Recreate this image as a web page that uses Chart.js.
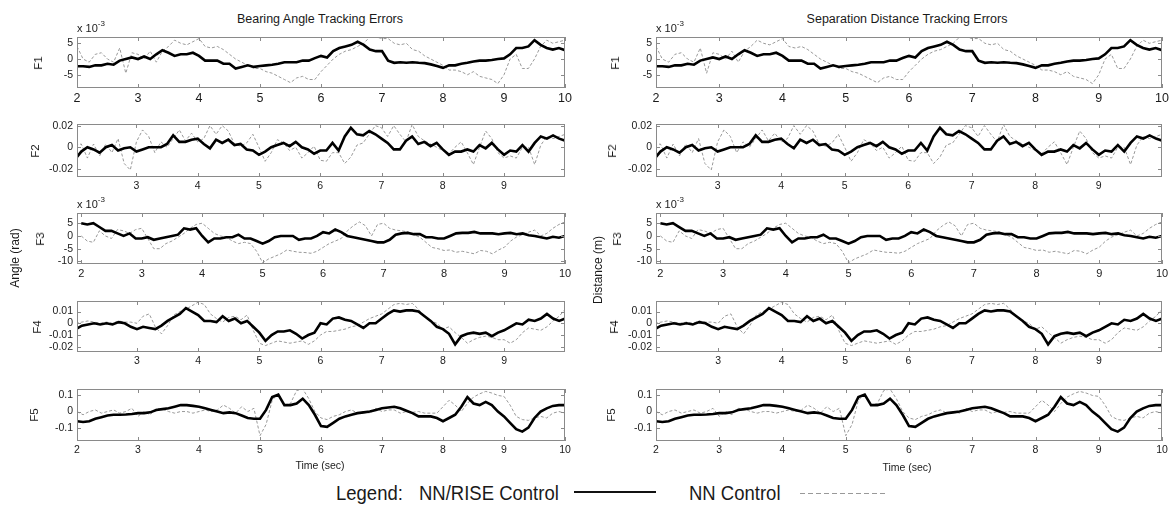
<!DOCTYPE html>
<html>
<head>
<meta charset="utf-8">
<script src="https://cdn.jsdelivr.net/npm/chart.js@4.4.0/dist/chart.umd.min.js"></script>
<style>
  body { margin: 0; width: 1173px; height: 512px; background: #fff; position: relative; overflow: hidden;
         font-family: "Liberation Sans", Arial, sans-serif; color: #1a1a1a; }
  canvas { position: absolute; }
  .t { position: absolute; white-space: nowrap; transform: translate(-50%, -50%); }
  .r { position: absolute; white-space: nowrap; transform: translate(-50%, -50%) rotate(-90deg); }
  .e { position: absolute; white-space: nowrap; font-size: 11px; }
  .e sup { font-size: 8px; position: relative; top: -1px; }
  .lg { position: absolute; white-space: nowrap; font-size: 18.5px; transform: scaleY(1.1); transform-origin: 0 0; }
</style>
</head>
<body>
<script>
// time samples (sec)
const times = [2.0, 2.1, 2.2, 2.3, 2.4, 2.5, 2.6, 2.7, 2.8, 2.9,
  3.0, 3.1, 3.2, 3.3, 3.4, 3.5, 3.6, 3.7, 3.8, 3.9,
  4.0, 4.1, 4.2, 4.3, 4.4, 4.5, 4.6, 4.7, 4.8, 4.9,
  5.0, 5.1, 5.2, 5.3, 5.4, 5.5, 5.6, 5.7, 5.8, 5.9,
  6.0, 6.1, 6.2, 6.3, 6.4, 6.5, 6.6, 6.7, 6.8, 6.9,
  7.0, 7.1, 7.2, 7.3, 7.4, 7.5, 7.6, 7.7, 7.8, 7.9,
  8.0, 8.1, 8.2, 8.3, 8.4, 8.5, 8.6, 8.7, 8.8, 8.9,
  9.0, 9.1, 9.2, 9.3, 9.4, 9.5, 9.6, 9.7, 9.8, 9.9, 10.0];

// F1 (x 10^-3)
const f1Rise = [-2.3, -2.3, -2.5, -2.0, -2.0, -1.5, -1.8, -0.5, 0, 0.5,
  0, 0.8, 0, 1.5, 2.8, 2.0, 1.0, 1.5, 1.5, 2.0,
  1.0, -0.5, -0.5, -0.5, -1.5, -1.5, -3, -2.5, -2, -2.5,
  -2.2, -2, -1.8, -1.5, -1, -1, -1, -0.5, -0.5, 0.3,
  1.0, 0.5, 2.5, 3.5, 4, 4.5, 5.5, 4.5, 3.0, 2.5,
  2.5, -0.5, -1.2, -1.0, -1.2, -1.0, -1.2, -1.3, -1.7, -2.2,
  -2.8, -2.0, -2.0, -1.5, -1.2, -0.8, -0.5, -0.5, -0.3, 0,
  0.2, 1.5, 3.5, 3.5, 4.0, 6, 4.5, 3.5, 3.0, 3.5, 2.8];
const f1NN = [4, 0, -1, 1.5, 2, 0, -1, 3.5, -4.5, 2,
  1.5, 0, 2.5, -1, 2.5, 4.0, 6, 5, 4.5, 5.5,
  6.5, 4, 3.5, 4, 3, 1.5, 0, -1, -2, -3,
  -3, -4, -4.5, -5.5, -6.5, -7.5, -6, -5.5, -6.5, -6.5,
  -4, -2, 0, 1.5, 2.5, 3, 4, 5, 7, 7,
  6.5, 6.5, 5, 4.5, 5, 3, 2.5, 1, 0, -1,
  -2, -3.5, -3.5, -4, -5, -4, -5.5, -6, -6.5, -7.8,
  -5, 0, 1.5, -3, -3, 0, 4, 6, 5, 5.5, 6];

// F2
const f2Rise = [-0.011, -0.004, 0, -0.002, -0.005, 0, 0.002, -0.003, -0.001, 0,
  -0.004, -0.002, 0, 0, 0, 0.003, 0.011, 0.005, 0.005, 0.007,
  0.008, 0.003, -0.001, 0.007, 0.004, 0.007, 0.002, 0.003, -0.002, -0.003,
  -0.007, -0.004, 0, 0.002, 0.004, 0.001, 0.005, 0, -0.002, -0.006,
  -0.003, -0.003, 0.004, -0.003, 0.01, 0.018, 0.012, 0.011, 0.015, 0.012,
  0.008, 0.004, -0.002, -0.002, 0.006, 0.01, 0.003, 0.005, 0.001, 0.004,
  -0.002, -0.007, -0.004, -0.004, -0.002, -0.004, 0.002, -0.001, 0.004, -0.002,
  -0.007, -0.003, -0.004, 0.002, -0.004, 0.004, 0.01, 0.008, 0.011, 0.008, 0.006];
const f2NN = [0.002, 0.003, -0.01, 0.003, -0.008, 0.003, -0.005, 0.008, -0.015, -0.021,
  0.005, 0.016, 0.01, -0.005, 0.005, 0, 0.008, 0.016, 0.006, 0.013,
  0.005, 0.008, 0.02, 0.012, 0.02, 0.015, 0.003, 0.001, 0.004, 0.012,
  0, -0.013, -0.005, 0.007, 0.004, -0.003, 0, -0.01, -0.005, 0.001,
  -0.012, -0.013, -0.005, -0.005, -0.015, -0.009, 0.002, 0.004, 0.012, 0.02,
  0.018, 0.01, 0.02, 0.012, 0.005, 0.021, 0.01, 0.006, 0.003, 0,
  -0.003, -0.006, 0, 0.005, -0.005, -0.016, 0, 0.015, 0.008, -0.005,
  -0.01, -0.008, -0.01, 0, 0, -0.016, 0.002, 0.01, 0.008, 0.01, 0.012];

// F3 (x 10^-3)
const f3Rise = [5, 4.5, 5, 3.5, 2, 2, 1, 0, 1, -1,
  -1, -0.5, -1.5, -1, -0.5, 0, 0.5, 3, 2.5, 3,
  0, -2.5, -1, -1, -0.5, -0.5, 0.5, -1, -1, -2,
  -3, -2, -0.5, 0, 0, 0, -1.5, -1, -1, 0,
  1.5, 1, 2.5, 1.5, 0, -0.5, -1, -1.5, -2, -2.5,
  -2.5, -1.5, 0.5, 1, 1.2, 0.7, 0.7, -0.5, -0.5, -1,
  -1, 0, 1, 1.2, 1.2, 1.6, 1, 1, 1, 0.7,
  1, 1.2, 0.7, 1, 0.3, 0, -0.5, -1, -0.3, -0.7, 0];
const f3NN = [0, -2, -2.5, 2, 0, -1, 2.5, 2, 1, 2.5,
  3, -1, -5, -5, -3, -2, -0.5, 1, 3, 4.5,
  5, 3, 1, 0, -0.5, -2, -3, -2.5, -3, -6,
  -10.5, -9, -8, -7, -5.5, -6, -6.4, -6.5, -6.8, -6,
  -4.5, -3, -2, -1, 2, 4, 5.5, 4, 0, 4.5,
  5, 3, 2.3, 2, 1.6, 0.5, -0.5, -2.5, -4.5, -5,
  -5.7, -5.5, -6.4, -6, -6.5, -7, -5.7, -6, -7, -5.5,
  -4.4, -2, -0.4, 0.5, 1.5, 2.3, 0, 1, 3, 4.5, 5.5];

// F4
const f4Rise = [-0.005, -0.002, -0.001, 0, -0.001, 0, -0.001, 0.001, 0, -0.003,
  -0.005, -0.003, -0.004, -0.005, -0.002, 0.002, 0.005, 0.008, 0.013, 0.01,
  0.007, 0.002, 0.002, 0.001, 0.006, 0.002, 0.004, 0, 0.002, -0.003,
  -0.008, -0.015, -0.01, -0.007, -0.007, -0.006, -0.009, -0.013, -0.01, -0.008,
  0, -0.001, 0.004, 0.005, 0.003, 0.002, -0.001, -0.004, 0, 0,
  0.004, 0.008, 0.011, 0.01, 0.011, 0.011, 0.01, 0.006, 0.002, -0.003,
  -0.005, -0.009, -0.018, -0.011, -0.009, -0.008, -0.009, -0.008, -0.011, -0.008,
  -0.006, -0.003, 0, -0.001, 0.003, 0.002, 0.004, 0.008, 0.004, 0.002, 0.004];
const f4NN = [0, 0.001, 0.002, 0.001, 0, 0.001, 0, 0.002, 0.001, 0.001,
  0, 0.006, 0.008, -0.003, -0.009, -0.002, 0.007, 0.01, 0.012, 0.015,
  0.018, 0.016, 0.008, 0.004, 0.001, 0.005, 0.006, 0.003, 0.007, -0.006,
  -0.017, -0.019, -0.017, -0.015, -0.016, -0.017, -0.016, -0.015, -0.018, -0.015,
  -0.01, -0.007, -0.007, -0.006, -0.005, -0.003, -0.002, 0.001, 0.004, 0.006,
  0.008, 0.012, 0.016, 0.017, 0.016, 0.017, 0.012, 0.006, 0.002, 0,
  -0.005, -0.003, -0.008, -0.012, -0.017, -0.014, -0.012, -0.011, -0.012, -0.014,
  -0.014, -0.017, -0.014, -0.008, -0.004, -0.005, -0.006, -0.003, 0.002, 0.006, 0.012];

// F5
const f5Rise = [-0.06, -0.065, -0.06, -0.045, -0.035, -0.025, -0.02, -0.02, -0.018, -0.015,
  -0.01, -0.01, -0.005, 0.01, 0.015, 0.02, 0.03, 0.04, 0.04, 0.035,
  0.03, 0.02, 0.01, 0, -0.01, -0.005, -0.01, -0.025, -0.04, -0.045,
  -0.045, 0.01, 0.09, 0.105, 0.04, 0.04, 0.05, 0.08, 0.04, -0.02,
  -0.09, -0.095, -0.07, -0.045, -0.03, -0.02, -0.01, -0.005, 0, 0.01,
  0.02, 0.025, 0.03, 0.02, 0.005, -0.01, -0.03, -0.03, -0.03, -0.04,
  -0.06, -0.04, -0.02, 0.03, 0.09, 0.05, 0.04, 0.06, 0.04, 0,
  -0.03, -0.07, -0.11, -0.125, -0.1, -0.04, 0, 0.02, 0.035, 0.04, 0.04];
const f5NN = [0, -0.02, 0, 0.01, -0.01, 0, 0.01, -0.01, 0, 0.02,
  -0.03, 0, -0.02, 0.02, 0.015, 0, -0.01, 0, 0, -0.01,
  0, 0.01, 0, 0.01, 0.04, 0.02, -0.01, 0.03, 0, 0.02,
  -0.15, -0.08, 0.07, 0.11, 0.04, 0.05, 0.13, 0.14, 0.08, 0,
  -0.04, -0.05, -0.03, -0.02, 0, 0.01, -0.01, 0, -0.01, 0.02,
  0, 0.01, 0.01, -0.01, 0, -0.005, 0, -0.01, -0.01, -0.01,
  0.03, 0.07, 0.04, 0, 0.05, 0.09, 0.11, 0.125, 0.115, 0.1,
  0.094, 0.04, -0.03, -0.05, -0.055, -0.04, -0.03, -0.04, -0.01, 0, -0.01];

// axis ticks
const xTicksFull = [2, 3, 4, 5, 6, 7, 8, 9, 10];
const xTicksInner = [3, 4, 5, 6, 7, 8, 9];
const f1YTicks = [-5, 0, 5];
const f2YTicks = [-0.02, 0, 0.02];
const f3YTicks = [-10, -5, 0, 5];
const f4YTicks = [-0.02, -0.01, 0, 0.01];
const f5YTicks = [-0.1, 0, 0.1];

const panels = [
  { name: 'F1', rise: f1Rise, nn: f1NN, xr: [2, 10], yr: [-9.2, 7], xt: xTicksFull, yt: f1YTicks, top: 37, bottom: 88, xFont: 12.5, lx: 38 },
  { name: 'F2', rise: f2Rise, nn: f2NN, xr: [2.03, 9.995], yr: [-0.0275, 0.0215], xt: xTicksInner, yt: f2YTicks, top: 124, bottom: 177, xFont: 10.5, lx: 35 },
  { name: 'F3', rise: f3Rise, nn: f3NN, xr: [1.93, 10], yr: [-11, 9], xt: xTicksFull, yt: f3YTicks, top: 213, bottom: 264, xFont: 11, lx: 40 },
  { name: 'F4', rise: f4Rise, nn: f4NN, xr: [2.02, 9.995], yr: [-0.0245, 0.019], xt: xTicksInner, yt: f4YTicks, top: 301, bottom: 352, xFont: 10.5, lx: 37 },
  { name: 'F5', rise: f5Rise, nn: f5NN, xr: [2, 10], yr: [-0.183, 0.14], xt: xTicksFull, yt: f5YTicks, top: 389, bottom: 441, xFont: 10.5, lx: 34 }
];
const columns = [ { left: 77, right: 565, shift: 0 }, { left: 656, right: 1162, shift: 577 } ];

// box + inward ticks like the original plots
const frame = {
  id: 'frame',
  afterDatasetsDraw(chart) {
    const { ctx, chartArea: a, scales: { x, y } } = chart;
    ctx.save();
    ctx.strokeStyle = '#8a8a8a';
    ctx.lineWidth = 1;
    ctx.strokeRect(Math.round(a.left) + 0.5, Math.round(a.top) + 0.5, Math.round(a.width) - 1, Math.round(a.height) - 1);
    ctx.beginPath();
    x.ticks.forEach(t => {
      const px = Math.round(x.getPixelForValue(t.value)) + 0.5;
      ctx.moveTo(px, a.bottom); ctx.lineTo(px, a.bottom - 4);
      ctx.moveTo(px, a.top); ctx.lineTo(px, a.top + 4);
    });
    y.ticks.forEach(t => {
      const py = Math.round(y.getPixelForValue(t.value)) + 0.5;
      ctx.moveTo(a.left, py); ctx.lineTo(a.left + 4, py);
      ctx.moveTo(a.right, py); ctx.lineTo(a.right - 4, py);
    });
    ctx.stroke();
    ctx.restore();
  }
};

function addDiv(cls, html, x, y, css) {
  const d = document.createElement('div');
  d.className = cls;
  d.innerHTML = html;
  d.style.left = x + 'px';
  d.style.top = y + 'px';
  if (css) d.style.cssText += css;
  document.body.appendChild(d);
}

function makePanel(p, col) {
  const cvn = document.createElement('canvas');
  const w = col.right - col.left + 68;
  const h = p.bottom - p.top + 28;
  cvn.width = w; cvn.height = h;
  cvn.style.left = (col.left - 60) + 'px';
  cvn.style.top = (p.top - 8) + 'px';
  cvn.style.width = w + 'px'; cvn.style.height = h + 'px';
  document.body.appendChild(cvn);

  new Chart(cvn.getContext('2d'), {
    type: 'line',
    data: {
      datasets: [
        { data: times.map((t, i) => ({ x: t, y: p.rise[i] })), borderColor: '#000', borderWidth: 2.6, pointRadius: 0, tension: 0 },
        { data: times.map((t, i) => ({ x: t, y: p.nn[i] })), borderColor: '#999', borderWidth: 1, borderDash: [3, 2], pointRadius: 0, tension: 0 }
      ]
    },
    options: {
      responsive: false,
      animation: false,
      devicePixelRatio: 1,
      layout: { padding: { top: 8, right: 8, left: 0, bottom: 0 } },
      plugins: { legend: { display: false }, tooltip: { enabled: false } },
      scales: {
        x: {
          type: 'linear', min: p.xr[0], max: p.xr[1],
          grid: { display: false, drawTicks: false }, border: { display: false },
          afterBuildTicks: s => { s.ticks = p.xt.map(v => ({ value: v })); },
          afterFit: s => { s.height = 20; s.paddingLeft = 0; s.paddingRight = 0; },
          ticks: { font: { family: 'Liberation Sans', size: p.xFont }, color: '#1a1a1a', padding: 3, maxRotation: 0, autoSkip: false, callback: v => String(v) }
        },
        y: {
          type: 'linear', min: p.yr[0], max: p.yr[1],
          grid: { display: false, drawTicks: false }, border: { display: false },
          afterBuildTicks: s => { s.ticks = p.yt.map(v => ({ value: v })); },
          afterFit: s => { s.width = 60; s.paddingTop = 0; s.paddingBottom = 0; },
          ticks: { font: { family: 'Liberation Sans', size: 10.5 }, color: '#1a1a1a', padding: 4, autoSkip: false, callback: v => String(v) }
        }
      }
    },
    plugins: [frame]
  });

  addDiv('r', p.name, p.lx + col.shift, (p.top + p.bottom) / 2, 'font-size:11.5px;');
}

columns.forEach(col => panels.forEach(p => makePanel(p, col)));

// titles and labels
addDiv('t', 'Bearing Angle Tracking Errors', 320, 19, 'font-size:12.5px;');
addDiv('t', 'Separation Distance Tracking Errors', 907, 19, 'font-size:12.5px;');
addDiv('e', 'x 10<sup>-3</sup>', 77, 20);
addDiv('e', 'x 10<sup>-3</sup>', 656, 20);
addDiv('e', 'x 10<sup>-3</sup>', 77, 196);
addDiv('e', 'x 10<sup>-3</sup>', 656, 196);
addDiv('r', 'Angle (rad)', 15, 258, 'font-size:12px;');
addDiv('r', 'Distance (m)', 598, 270, 'font-size:12px;');
addDiv('t', 'Time (sec)', 320, 465, 'font-size:10.5px;');
addDiv('t', 'Time (sec)', 907, 467, 'font-size:10.5px;');

// legend
addDiv('lg', 'Legend:', 336, 481);
addDiv('lg', 'NN/RISE Control', 419, 481);
addDiv('e', '', 574, 491, 'width:82px;height:0;border-top:2.5px solid #111;');
addDiv('lg', 'NN Control', 689, 481);
addDiv('e', '', 800, 493, 'width:88px;height:1px;background:repeating-linear-gradient(to right,#999 0 5px,transparent 5px 8px);');
</script>
</body>
</html>
